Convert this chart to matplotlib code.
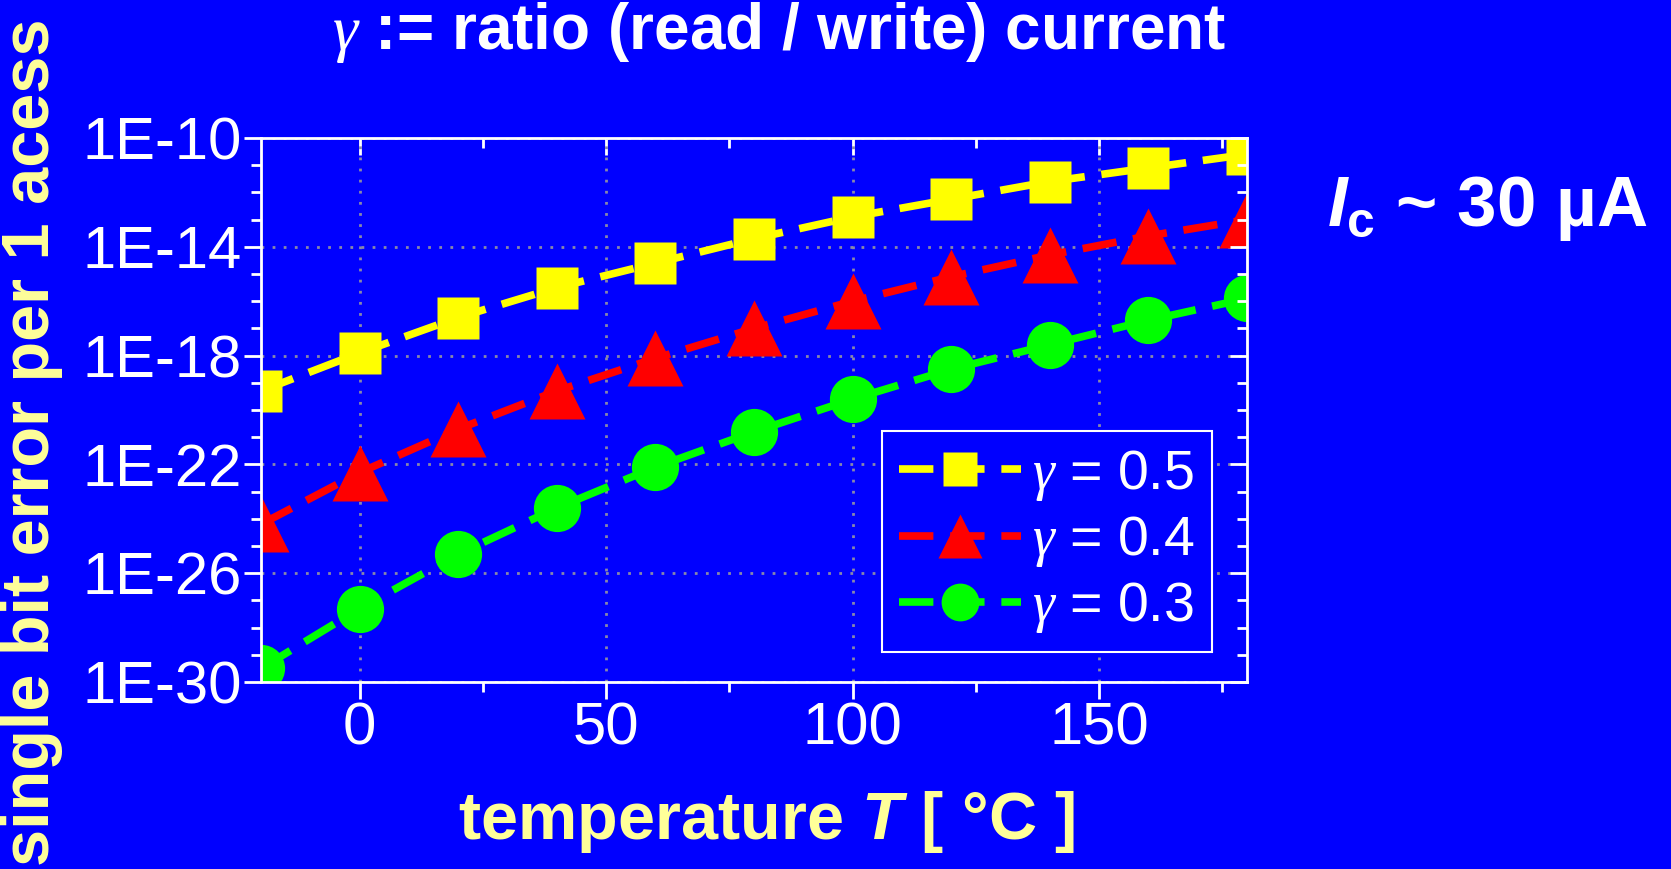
import numpy as np
import matplotlib
matplotlib.use('Agg')
import matplotlib.pyplot as plt
from matplotlib.ticker import FixedLocator, FuncFormatter, NullFormatter

plt.rcParams['font.family'] = ['Liberation Sans', 'DejaVu Sans']
plt.rcParams['mathtext.fontset'] = 'custom'
plt.rcParams['mathtext.rm'] = 'Liberation Sans'
plt.rcParams['mathtext.it'] = 'Liberation Sans:italic:bold'
plt.rcParams['mathtext.bf'] = 'Liberation Sans:bold'
plt.rcParams['mathtext.sf'] = 'Liberation Serif:italic'

# 数据 (温度 vs 单比特错误率, 以10的指数读取)
temperature = [-20, 0, 20, 40, 60, 80, 100, 120, 140, 160, 180]
exp_g05 = [-19.3, -17.9, -16.6, -15.5, -14.6, -13.7, -12.9, -12.25, -11.6, -11.1, -10.6]
exp_g04 = [-24.2, -22.3, -20.7, -19.3, -18.1, -17.0, -16.0, -15.1, -14.3, -13.6, -13.0]
exp_g03 = [-29.5, -27.3, -25.3, -23.6, -22.1, -20.8, -19.6, -18.5, -17.6, -16.7, -15.9]
labels = ['0.5', '0.4', '0.3']
colors = ['#FFFF00', '#FF0000', '#00FF00']
markers = ['s', '^', 'o']
ytick_exps = [-10, -14, -18, -22, -26, -30]
xticks = [0, 50, 100, 150]

BLUE = '#0000FF'
LABEL_YELLOW = '#FFFF99'
NARROW = ['Liberation Sans Narrow', 'Liberation Sans']

fig = plt.figure(figsize=(16.71, 8.69), dpi=100, facecolor=BLUE)
ax = fig.add_axes([0.1562, 0.2152, 0.5901, 0.626], facecolor=BLUE)

series = [exp_g05, exp_g04, exp_g03]
msizes = [30, 40, 34]
for ex, lab, c, m, ms in zip(series, labels, colors, markers, msizes):
    ax.plot(temperature, 10.0 ** np.array(ex), color=c, lw=5.5, ls=(0, (4.5, 2.2)),
            marker=m, ms=ms, mec='none', mfc=c, label=r'$\mathsf{\gamma}$ = ' + lab)

ax.set_yscale('log')
ax.set_xlim(-20, 180)
ax.set_ylim(1e-30, 1e-10)

ax.yaxis.set_major_locator(FixedLocator([10.0 ** e for e in ytick_exps]))
ax.yaxis.set_minor_locator(FixedLocator([10.0 ** e for e in range(-30, -9)]))
ax.yaxis.set_minor_formatter(NullFormatter())
ax.yaxis.set_major_formatter(FuncFormatter(lambda v, p: '1E%d' % int(round(np.log10(v)))))
ax.xaxis.set_major_locator(FixedLocator(xticks))
ax.xaxis.set_minor_locator(FixedLocator([25, 75, 125, 175]))

for sp in ax.spines.values():
    sp.set_color('white')
    sp.set_linewidth(2)

ax.tick_params(which='major', direction='out', length=12, width=2, color='white',
               labelcolor='white', labelsize=43, pad=2)
ax.tick_params(which='minor', direction='out', length=7, width=2, color='white')
for t in ax.get_xticklabels() + ax.get_yticklabels():
    t.set_family(NARROW)

# 上/右侧向内的刻度
axt = ax.secondary_xaxis('top')
axt.xaxis.set_major_locator(FixedLocator(xticks))
axt.xaxis.set_minor_locator(FixedLocator([25, 75, 125, 175]))
axt.tick_params(which='major', direction='in', length=12, width=2, color='white', labeltop=False)
axt.tick_params(which='minor', direction='in', length=7, width=2, color='white')
axt.spines['top'].set_visible(False)
axr = ax.twinx()
axr.set_yscale('log')
axr.set_ylim(ax.get_ylim())
axr.yaxis.set_major_locator(FixedLocator([10.0 ** e for e in ytick_exps]))
axr.yaxis.set_minor_locator(FixedLocator([10.0 ** e for e in range(-30, -9)]))
axr.tick_params(which='major', direction='in', length=12, width=2, color='white', labelright=False)
axr.tick_params(which='minor', direction='in', length=7, width=2, color='white', labelright=False)
axr.set_facecolor('none')
for sp in axr.spines.values():
    sp.set_visible(False)

ax.grid(True, which='major', color='#8888AA', ls=(0, (1, 3)), lw=2)

leg = ax.legend(loc='upper left', bbox_to_anchor=(0.63, 0.461), borderaxespad=0,
                frameon=True, fancybox=False,
                facecolor=BLUE, edgecolor='white', framealpha=1, markerscale=0.8,
                handlelength=2.2, handletextpad=0.2, borderpad=0.3, labelspacing=0.2,
                prop={'family': NARROW, 'size': 40})
leg.get_frame().set_linewidth(1.5)
for t in leg.get_texts():
    t.set_color('white')

fig.text(0.466, 0.963, r'$\mathsf{\gamma}$ := ratio (read / write) current', color='white',
         fontsize=46, fontweight='bold', ha='center', va='center')
fig.text(0.459, 1 - 839 / 869, r'temperature $T$ [ °C ]', color=LABEL_YELLOW,
         fontsize=48, fontweight='bold', ha='center', va='baseline')
fig.text(0.019, 0.003, 'single bit error per 1 acess', color=LABEL_YELLOW,
         fontsize=48, fontweight='bold', rotation=90, ha='center', va='bottom')
fig.text(1327 / 1671, 1 - 226 / 869, r'$I_\mathbf{c}$ ~ 30 µA', color='white',
         fontsize=51, fontweight='bold', ha='left', va='baseline')

fig.savefig('out.png', dpi=100, facecolor=BLUE)
